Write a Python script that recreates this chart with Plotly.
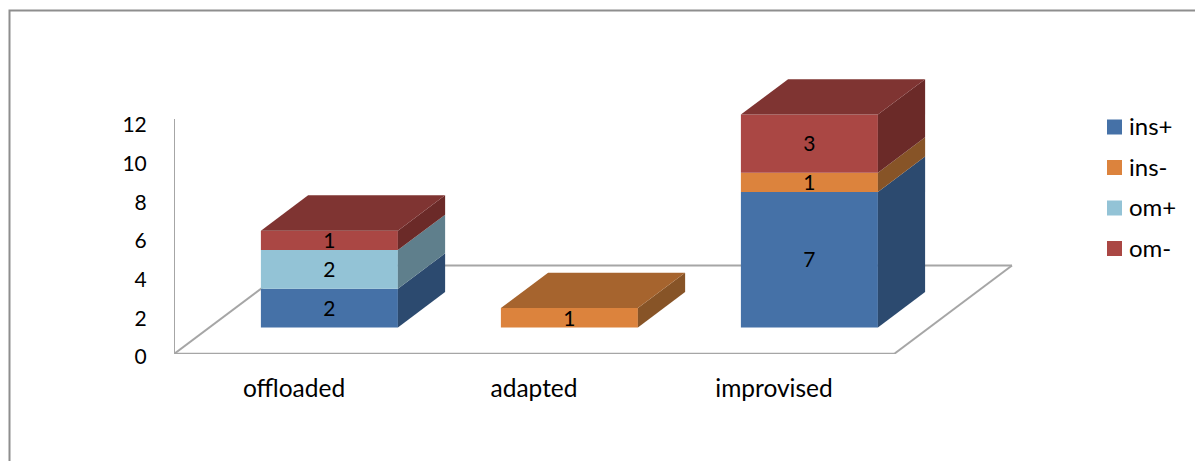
import plotly.graph_objects as go

categories = ["offloaded", "adapted", "improvised"]
ins_plus = [2, 0, 7]
ins_minus = [0, 1, 1]
om_plus = [2, 0, 0]
om_minus = [1, 0, 3]
y_ticks = [0, 2, 4, 6, 8, 10, 12]

names = ["ins+", "ins-", "om+", "om-"]
series = [ins_plus, ins_minus, om_plus, om_minus]
front = ["#4571A7", "#DC833D", "#93C3D6", "#AA4744"]
side = ["#2C4A6F", "#875427", "#5F7F8C", "#6B2A28"]
top = ["#2F5079", "#A6642E", "#6F97A6", "#7F3432"]

W, H = 1195, 461
L, R, T, B = 174, 1, 60, 107
PW, PH = W - L - R, H - T - B
PX_CAT, PX_VAL = 240.0, 19.35

DX = 118 / PX_CAT          # floor depth, in category units
DY = 88.5 / PX_VAL         # floor depth, in value units
D0, D1 = 0.30, 0.70        # front and back of the bars on the floor
BAR_W = 137 / PX_CAT
TEXT_DROP = 2.5 / PX_VAL   # optical centring of the value labels
LEGEND_SWATCH_X, LEGEND_TEXT_X = 1114.5, 1129
LEGEND_Y = [127, 167.5, 208, 248.5]


def proj(x, v, d):
    return x + d * DX, v + d * DY


def px(x):
    return (x - L) / PW


def py(y):
    return (H - B - y) / PH


def data_x(x):
    return -0.5 + (x - L) / PX_CAT


def data_y(y):
    return (H - B - y) / PX_VAL


fig = go.Figure()

# floor and wall, behind every mark
shapes = []
corners = [proj(-0.5, 0, 0), proj(2.5, 0, 0), proj(2.5, 0, 1), proj(-0.5, 0, 1), proj(-0.5, 0, 0)]
for a, b, w in zip(corners[:-1], corners[1:], [2.5, 2, 2, 2]):
    shapes.append(dict(type="line", xref="x", yref="y", x0=a[0], y0=a[1], x1=b[0], y1=b[1],
                       line=dict(color="#A6A6A6", width=w), layer="below"))
shapes.append(dict(type="line", xref="x", yref="y", x0=-0.5, y0=0, x1=-0.5, y1=12.15,
                   line=dict(color="#A6A6A6", width=2), layer="below"))
# chart frame
shapes.append(dict(type="rect", xref="paper", yref="paper", x0=px(9.5), y0=py(10.5), x1=px(W + 20), y1=py(H + 20),
                   line=dict(color="#8E8E8E", width=2), layer="below"))

# front faces
cum = [0, 0, 0]
text_x, text_y, text_v = [], [], []
for name, vals, fc, sc in zip(names, series, front, side):
    base = [c + proj(0, 0, D0)[1] for c in cum]
    fig.add_trace(go.Bar(
        x=[proj(i, 0, D0)[0] for i in range(3)], y=vals, base=base, width=BAR_W, name=name,
        marker=dict(color=fc, line=dict(width=0)), showlegend=False,
    ))
    for i, v in enumerate(vals):
        if v:
            xr = i + BAR_W / 2
            p = [proj(xr, cum[i], D0), proj(xr, cum[i] + v, D0), proj(xr, cum[i] + v, D1), proj(xr, cum[i], D1)]
            p.append(p[0])
            fig.add_trace(go.Scatter(x=[q[0] for q in p], y=[q[1] for q in p], mode="lines", fill="toself",
                                     fillcolor=sc, line=dict(width=0), showlegend=False, hoverinfo="skip"))
            cx, cy = proj(i, cum[i] + v / 2, D0)
            text_x.append(cx)
            text_y.append(cy - TEXT_DROP)
            text_v.append(str(v))
    cum = [c + v for c, v in zip(cum, vals)]

# top faces, coloured by the top-most non-empty series
for i in range(3):
    idx = max(k for k, s in enumerate(series) if s[i])
    xl, xr = i - BAR_W / 2, i + BAR_W / 2
    p = [proj(xl, cum[i], D0), proj(xr, cum[i], D0), proj(xr, cum[i], D1), proj(xl, cum[i], D1)]
    p.append(p[0])
    fig.add_trace(go.Scatter(x=[q[0] for q in p], y=[q[1] for q in p], mode="lines", fill="toself",
                             fillcolor=top[idx], line=dict(width=0), showlegend=False, hoverinfo="skip"))

fig.add_trace(go.Scatter(x=text_x, y=text_y, text=text_v, mode="text", textposition="middle center",
                         textfont=dict(size=21, color="black"), showlegend=False, hoverinfo="skip"))

# legend key
fig.add_trace(go.Scatter(x=[data_x(LEGEND_SWATCH_X)] * 4, y=[data_y(v) for v in LEGEND_Y], mode="markers",
                         marker=dict(symbol="square", size=15, color=front, line=dict(width=0)),
                         showlegend=False, hoverinfo="skip"))
fig.add_trace(go.Scatter(x=[data_x(LEGEND_TEXT_X)] * 4, y=[data_y(v + 2) for v in LEGEND_Y], text=names, mode="text",
                         textposition="middle right", textfont=dict(size=24, color="black"),
                         showlegend=False, hoverinfo="skip"))

fig.update_layout(
    width=W, height=H, barmode="overlay", paper_bgcolor="white", plot_bgcolor="white", showlegend=False,
    margin=dict(l=L, r=R, t=T, b=B, autoexpand=False),
    font=dict(family="Lato", size=21, color="black"), shapes=shapes,
    xaxis=dict(range=[-0.5, -0.5 + PW / PX_CAT], tickvals=[0, 1, 2], ticktext=categories, showgrid=False,
               zeroline=False, showline=False, ticks="outside", ticklen=13, tickcolor="rgba(0,0,0,0)",
               tickfont=dict(size=24.5)),
    yaxis=dict(range=[0, PH / PX_VAL], tickvals=y_ticks, showgrid=False, zeroline=False, showline=False,
               ticks="outside", ticklen=22, tickcolor="rgba(0,0,0,0)", ticklabelshift=3),
)
fig.write_html("out.html", config=dict(displayModeBar=False),
               post_script="document.body.style.margin='0';document.documentElement.style.overflow='hidden';")
